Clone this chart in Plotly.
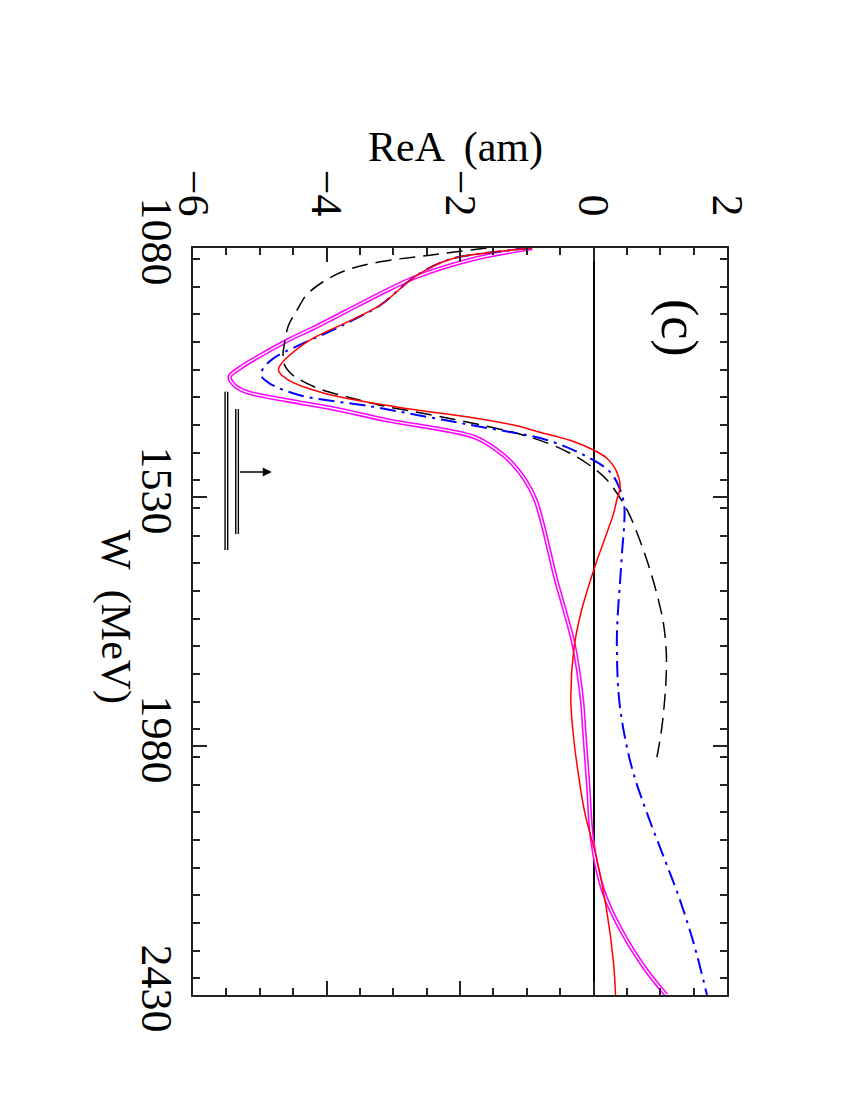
import plotly.graph_objects as go

# W (MeV) along the vertical axis, ReA (am) along the horizontal axis
w_red = [1080, 1096, 1107, 1132, 1183, 1210, 1252, 1300, 1318, 1342, 1367, 1385, 1400, 1412,
         1430, 1445, 1460, 1480, 1512, 1535, 1560, 1595, 1656, 1740, 1801, 1891, 1951, 2020,
         2101, 2180, 2271, 2372, 2430]
rea_red = [-0.92, -2.0, -2.3, -2.68, -3.19, -3.62, -4.32, -4.72, -4.58, -4.05, -2.97, -1.9, -1.2,
           -0.83, -0.29, 0.0, 0.2, 0.33, 0.40, 0.35, 0.30, 0.20, 0.02, -0.19, -0.29, -0.34, -0.31,
           -0.24, -0.13, 0.04, 0.19, 0.30, 0.33]

w_mag = [1080, 1100, 1132, 1163, 1194, 1225, 1245, 1275, 1297, 1313, 1328, 1340, 1355, 1370,
         1391, 1421, 1445, 1469, 1500, 1535, 1580, 1630, 1680, 1740, 1801, 1900, 1951, 2050,
         2150, 2240, 2312, 2385, 2430]
rea_mag = [-0.92, -1.8, -2.65, -3.2, -3.7, -4.2, -4.55, -5.0, -5.3, -5.45, -5.38, -5.2, -4.6,
           -3.9, -3.1, -1.8, -1.45, -1.22, -1.02, -0.87, -0.76, -0.66, -0.56, -0.42, -0.29,
           -0.17, -0.14, -0.08, -0.02, 0.14, 0.41, 0.79, 1.09]

w_blue = [1080, 1096, 1107, 1132, 1183, 1210, 1228, 1255, 1280, 1298, 1310, 1325, 1346, 1367,
          1385, 1403, 1427, 1457, 1485, 1517, 1545, 1580, 1626, 1680, 1750, 1801, 1891, 1964,
          2030, 2101, 2180, 2253, 2336, 2430]
rea_blue = [-0.92, -2.0, -2.3, -2.68, -3.19, -3.6, -3.9, -4.40, -4.8, -4.95, -4.98, -4.85, -4.40,
            -3.3, -2.5, -1.7, -0.7, -0.1, 0.25, 0.40, 0.46, 0.46, 0.43, 0.40, 0.36, 0.35, 0.38,
            0.47, 0.6, 0.8, 1.05, 1.28, 1.50, 1.70]

w_blk = [1080, 1093, 1105, 1120, 1141, 1165, 1192, 1220, 1246, 1270, 1288, 1305, 1318, 1335,
         1349, 1364, 1380, 1402, 1420, 1442, 1469, 1499, 1553, 1610, 1667, 1720, 1760, 1810,
         1850, 1891, 1950, 2000]
rea_blk = [-1.6, -2.45, -3.2, -3.7, -4.05, -4.3, -4.44, -4.57, -4.62, -4.65, -4.64, -4.55, -4.40,
           -4.1, -3.69, -3.2, -2.5, -1.6, -1.0, -0.5, -0.1, 0.2, 0.5, 0.7, 0.86, 0.98, 1.05, 1.09,
           1.09, 1.07, 1.02, 0.95]

# threshold bars and arrow
bar_rea = [-5.50, -5.34]
bar_w_lo = [1340, 1371]
bar_w_hi = [1626, 1597]
arrow_w = 1485
arrow_rea = [-5.32, -4.82]

FONT = "Liberation Serif"

fig = go.Figure()

# magenta double line: wide magenta with a thin white core
fig.add_trace(go.Scatter(x=rea_mag, y=w_mag, mode="lines", line=dict(color="#ff00ff", width=4.5, shape="spline")))
fig.add_trace(go.Scatter(x=rea_mag, y=w_mag, mode="lines", line=dict(color="white", width=1.4, shape="spline")))

fig.add_trace(go.Scatter(x=rea_blk, y=w_blk, mode="lines",
                         line=dict(color="black", width=1.5, dash="16px,8px", shape="spline")))
fig.add_trace(go.Scatter(x=rea_blue, y=w_blue, mode="lines",
                         line=dict(color="#0000ff", width=2, dash="16px,6px,3px,6px", shape="spline")))
fig.add_trace(go.Scatter(x=rea_red, y=w_red, mode="lines", line=dict(color="#ff0000", width=1.5, shape="spline")))

for xb, lo, hi in zip(bar_rea, bar_w_lo, bar_w_hi):
    fig.add_trace(go.Scatter(x=[xb, xb], y=[lo, hi], mode="lines", line=dict(color="black", width=4)))
    fig.add_trace(go.Scatter(x=[xb, xb], y=[lo, hi], mode="lines", line=dict(color="white", width=1.2)))

fig.add_annotation(x=arrow_rea[1], y=arrow_w, ax=arrow_rea[0], ay=arrow_w, xref="x", yref="y",
                   axref="x", ayref="y", showarrow=True, arrowhead=2, arrowsize=1.2,
                   arrowwidth=1.5, arrowcolor="black", text="")

fig.add_annotation(x=1.27, y=1225, xref="x", yref="y", text="(c)", showarrow=False,
                   textangle=90, xanchor="center", yanchor="middle",
                   font=dict(family=FONT, size=52, color="black"))
fig.add_annotation(x=0.4925, y=1.135, xref="paper", yref="paper", text="ReA  (am)", showarrow=False,
                   xanchor="center", yanchor="middle",
                   font=dict(family=FONT, size=42, color="black"))
fig.add_annotation(x=-0.144, y=0.506, xref="paper", yref="paper", text="W  (MeV)", showarrow=False,
                   textangle=90, xanchor="center", yanchor="middle",
                   font=dict(family=FONT, size=42, color="black"))

axis_common = dict(
    showgrid=False, showline=True, linecolor="#222", linewidth=2, mirror="allticks",
    ticks="inside", ticklen=14, tickwidth=2, tickcolor="#222", tickangle=90,
    tickfont=dict(family=FONT, size=44, color="black"),
)

fig.update_xaxes(range=[-6, 2], side="top", tick0=-6, dtick=2, ticklabelstandoff=14,
                 minor=dict(dtick=0.5, ticks="inside", ticklen=7, tickwidth=2, tickcolor="#222"),
                 zeroline=True, zerolinecolor="black", zerolinewidth=1.5, **axis_common)
fig.update_yaxes(range=[2430, 1080], side="left", tick0=1080, dtick=450, ticklabelstandoff=-4,
                 minor=dict(dtick=50, ticks="inside", ticklen=7, tickwidth=2, tickcolor="#222"),
                 zeroline=False, **axis_common)

fig.update_layout(
    width=850, height=1100,
    margin=dict(l=185, r=131, t=240, b=113),
    plot_bgcolor="white", paper_bgcolor="white",
    showlegend=False,
)

fig.write_html("out.html")
